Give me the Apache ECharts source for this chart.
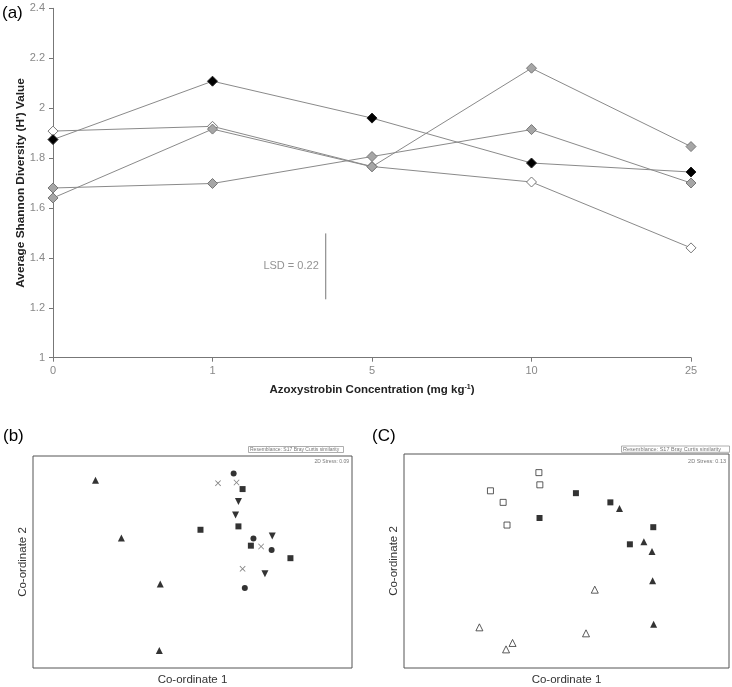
<!DOCTYPE html>
<html><head><meta charset="utf-8">
<script src="https://cdn.jsdelivr.net/npm/echarts@6/dist/echarts.min.js"></script>
<style>html,body{margin:0;padding:0;background:#fff}#c{width:732px;height:687px}</style>
</head><body><div id="c"></div>
<script>
// ---- Panel (a) data ----
var concentrations = ['0', '1', '5', '10', '25'];
var seriesBlack = [1.874, 2.108, 1.960, 1.780, 1.744];
var seriesWhite = [1.908, 1.927, 1.766, 1.704, 1.440];
var seriesGrayA = [1.640, 1.916, 1.765, 2.160, 1.846];
var seriesGrayB = [1.680, 1.698, 1.806, 1.914, 1.700];
var yTicks = [1, 1.2, 1.4, 1.6, 1.8, 2, 2.2, 2.4];
var lsdPosition = 1.71;          // position along the concentration axis (category index)
var lsdRange = [1.234, 1.498];   // bottom / top of LSD bar
var lsdText = 'LSD = 0.22';

// ---- Panel (b) NMDS data (relative ordination units 0-100) ----
var bTriUp   = [[19.6,88.6],[27.7,61.3],[39.9,39.6],[39.6,8.2]];
var bCircle  = [[62.9,91.8],[69.1,61.1],[74.8,55.7],[66.4,37.7]];
var bCross   = [[58.0,87.2],[63.8,87.5],[71.5,57.3],[65.7,46.8]];
var bSquare  = [[65.7,84.4],[52.5,65.2],[64.4,66.8],[68.3,57.7],[80.7,51.8]];
var bTriDown = [[64.4,78.5],[63.5,72.2],[75.0,62.3],[72.7,44.5]];
var bStress = '2D Stress: 0.09';

// ---- Panel (c) NMDS data ----
var cOpenSquare = [[41.5,91.3],[41.8,85.6],[26.6,82.8],[30.5,77.4],[31.7,66.8]];
var cFillSquare = [[52.9,81.7],[63.5,77.4],[41.7,70.1],[76.7,65.8],[69.5,57.8]];
var cFillTri    = [[66.3,74.5],[73.8,59.0],[76.3,54.4],[76.5,40.8],[76.8,20.4]];
var cOpenTri    = [[58.7,36.6],[23.2,19.0],[56.0,16.2],[33.4,11.7],[31.4,8.7]];
var cStress = '2D Stress: 0.13';
var resemblance = 'Resemblance: S17 Bray Curtis similarity';

var FONT = '"Liberation Sans", Arial, sans-serif';
function idx(arr){ return arr.map(function(v,i){ return [i, v]; }); }

var crossPath = 'path://M0,1L1,0L5,4L9,0L10,1L6,5L10,9L9,10L5,6L1,10L0,9L4,5Z';

function hiddenAxis(name, gi, isY){
  return {
    type:'value', gridIndex:gi, min:0, max:100, name:name, nameLocation:'middle',
    nameGap: isY ? 4 : 6, nameMoveOverlap:false,
    nameTextStyle:{fontFamily:FONT, fontSize:11.5, color:'#333'},
    axisLine:{show:false}, axisTick:{show:false}, axisLabel:{show:false}, splitLine:{show:false}
  };
}
function sc(name, data, xi, symbol, opts){
  opts = opts || {};
  return {
    type:'scatter', name:name, xAxisIndex:xi, yAxisIndex:xi, data:data,
    symbol:symbol, symbolSize: opts.size || 6, symbolRotate: opts.rotate || 0,
    itemStyle:{color: opts.fill || '#000', borderColor: opts.border || '#000', borderWidth: opts.bw || 0},
    silent:true
  };
}

var chart = echarts.init(document.getElementById('c'), null, {renderer:'canvas'});
var option = {
  animation:false,
  backgroundColor:'#fff',
  grid:[
    {left:53, top:8.3, width:638, height:349.4},
    {left:33, top:456, width:319, height:213, show:true, borderColor:'#555', borderWidth:1, backgroundColor:'transparent'},
    {left:404, top:454, width:325, height:216, show:true, borderColor:'#555', borderWidth:1, backgroundColor:'transparent'}
  ],
  xAxis:[
    {type:'value', gridIndex:0, min:0, max:4, interval:1,
     name:'Azoxystrobin Concentration (mg kg{sup|-1})', nameLocation:'middle', nameGap:26,
     nameTextStyle:{fontFamily:FONT, fontSize:11.5, fontWeight:'bold', color:'#222',
       rich:{sup:{fontSize:7, fontWeight:'bold', verticalAlign:'top', padding:[0,0,5,0], fontFamily:FONT, color:'#222'}}},
     axisLine:{lineStyle:{color:'#777', width:1}},
     axisTick:{show:true, length:4, lineStyle:{color:'#777'}},
     axisLabel:{formatter:function(v){ return concentrations[v] || ''; }, color:'#888', fontFamily:FONT, fontSize:11, margin:8},
     splitLine:{show:false}},
    hiddenAxis('Co-ordinate 1', 1, false),
    hiddenAxis('Co-ordinate 1', 2, false)
  ],
  yAxis:[
    {type:'value', gridIndex:0, min:1, max:2.4, interval:0.2,
     name:"Average Shannon Diversity (H') Value", nameLocation:'middle', nameGap:26, nameMoveOverlap:false,
     nameTextStyle:{fontFamily:FONT, fontSize:11.8, fontWeight:'bold', color:'#222'},
     axisLine:{show:true, lineStyle:{color:'#777', width:1}},
     axisTick:{show:true, length:4, lineStyle:{color:'#777'}},
     axisLabel:{formatter:function(v){ var r = Math.round(v*10)/10; return yTicks.indexOf(r) >= 0 ? String(r) : ''; },
       color:'#888', fontFamily:FONT, fontSize:11, margin:8},
     splitLine:{show:false}},
    hiddenAxis('Co-ordinate 2', 1, true),
    hiddenAxis('Co-ordinate 2', 2, true)
  ],
  graphic:[
    {type:'text', left:2, top:5, style:{text:'(a)', font:'17px '+FONT, fill:'#000'}},
    {type:'text', left:3, top:428, style:{text:'(b)', font:'17px '+FONT, fill:'#000'}},
    {type:'text', left:372, top:428, style:{text:'(C)', font:'17px '+FONT, fill:'#000'}},
    {type:'rect', shape:{x:248.5, y:446.5, width:95, height:6}, style:{fill:'#fff', stroke:'#999', lineWidth:0.8}},
    {type:'text', x:250, y:446.8, style:{text:resemblance, font:'5px '+FONT, fill:'#777'}},
    {type:'text', x:349, y:459.5, style:{text:bStress, font:'5px '+FONT, fill:'#777', textAlign:'right'}},
    {type:'rect', shape:{x:621.5, y:446, width:108, height:6.3}, style:{fill:'#fff', stroke:'#999', lineWidth:0.8}},
    {type:'text', x:623, y:446.5, style:{text:resemblance, font:'5.5px '+FONT, fill:'#777'}},
    {type:'text', x:726, y:458.5, style:{text:cStress, font:'5.5px '+FONT, fill:'#777', textAlign:'right'}}
  ],
  series:[
    {type:'line', name:'white', data:idx(seriesWhite), symbol:'diamond', symbolSize:10,
     lineStyle:{color:'#8a8a8a', width:1}, itemStyle:{color:'#fff', borderColor:'#777', borderWidth:1}, silent:true},
    {type:'line', name:'black', data:idx(seriesBlack), symbol:'diamond', symbolSize:10,
     lineStyle:{color:'#8a8a8a', width:1}, itemStyle:{color:'#000', borderColor:'#222', borderWidth:1}, silent:true},
    {type:'line', name:'grayB', data:idx(seriesGrayB), symbol:'diamond', symbolSize:10,
     lineStyle:{color:'#8a8a8a', width:1}, itemStyle:{color:'#a6a6a6', borderColor:'#777', borderWidth:1}, silent:true},
    {type:'line', name:'grayA', data:idx(seriesGrayA), symbol:'diamond', symbolSize:10,
     lineStyle:{color:'#8a8a8a', width:1}, itemStyle:{color:'#a6a6a6', borderColor:'#777', borderWidth:1}, silent:true},
    {type:'line', name:'LSD', data:[[lsdPosition, lsdRange[0]],[lsdPosition, lsdRange[1]]], symbol:'none',
     lineStyle:{color:'#777', width:1}, silent:true},
    {type:'scatter', name:'LSDlabel', data:[[lsdPosition, (lsdRange[0]+lsdRange[1])/2]], symbolSize:0,
     label:{show:true, position:'left', distance:7, formatter:lsdText, color:'#777', fontFamily:FONT, fontSize:11}, silent:true},

    sc('bTriUp', bTriUp, 1, 'triangle', {size:7}),
    sc('bCircle', bCircle, 1, 'circle', {size:6}),
    sc('bCross', bCross, 1, crossPath, {size:6, fill:'#666'}),
    sc('bSquare', bSquare, 1, 'rect', {size:6}),
    sc('bTriDown', bTriDown, 1, 'triangle', {size:7, rotate:180}),

    sc('cOpenSquare', cOpenSquare, 2, 'rect', {size:6, fill:'#fff', border:'#333', bw:1}),
    sc('cFillSquare', cFillSquare, 2, 'rect', {size:6}),
    sc('cFillTri', cFillTri, 2, 'triangle', {size:7}),
    sc('cOpenTri', cOpenTri, 2, 'triangle', {size:7, fill:'#fff', border:'#333', bw:1})
  ]
};
chart.setOption(option);
</script></body></html>
